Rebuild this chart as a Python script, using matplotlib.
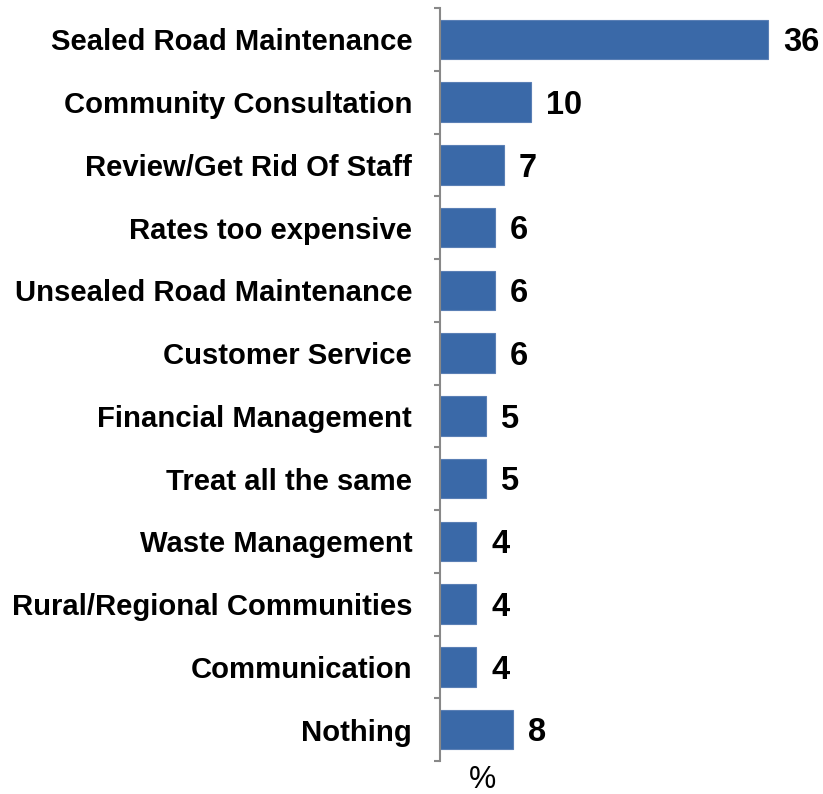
import matplotlib.pyplot as plt
import numpy as np

categories = ['Sealed Road Maintenance', 'Community Consultation',
              'Review/Get Rid Of Staff', 'Rates too expensive',
              'Unsealed Road Maintenance', 'Customer Service',
              'Financial Management', 'Treat all the same',
              'Waste Management', 'Rural/Regional Communities',
              'Communication', 'Nothing']
values = [36, 10, 7, 6, 6, 6, 5, 5, 4, 4, 4, 8]

plt.rcParams['font.family'] = ['Liberation Sans', 'DejaVu Sans']

fig = plt.figure(figsize=(8.23, 7.94), dpi=100)
ax = fig.add_axes([440 / 823, 33 / 794, 383 / 823, 753 / 794])

y = np.arange(len(categories))
bars = ax.barh(y, values, height=0.63, color='#3a69a8',
               edgecolor='#5a7fb5', linewidth=0.8)

for yi, v in zip(y, values):
    ax.text(v + 1.6, yi + 0.05, str(v), ha='left', va='center',
            fontsize=23.5, fontweight='bold', color='black')

ax.set_ylim(len(categories) - 0.5, -0.5)
ax.set_xlim(0, 42)

ax.set_yticks(y)
ax.set_yticklabels(categories, fontsize=21.1, fontweight='bold')
ax.tick_params(axis='y', which='major', length=0, pad=20)
ax.set_yticks(np.arange(len(categories) + 1) - 0.5, minor=True)
ax.tick_params(axis='y', which='minor', length=4, width=1.5, color='#888888')

ax.set_xticks([])
for side in ['top', 'right', 'bottom']:
    ax.spines[side].set_visible(False)
ax.spines['left'].set_color('#888888')
ax.spines['left'].set_linewidth(1.5)

fig.text(483 / 823, 1 - 780 / 794, '%', ha='center', va='center', fontsize=22)

fig.savefig('out.png', dpi=100)
